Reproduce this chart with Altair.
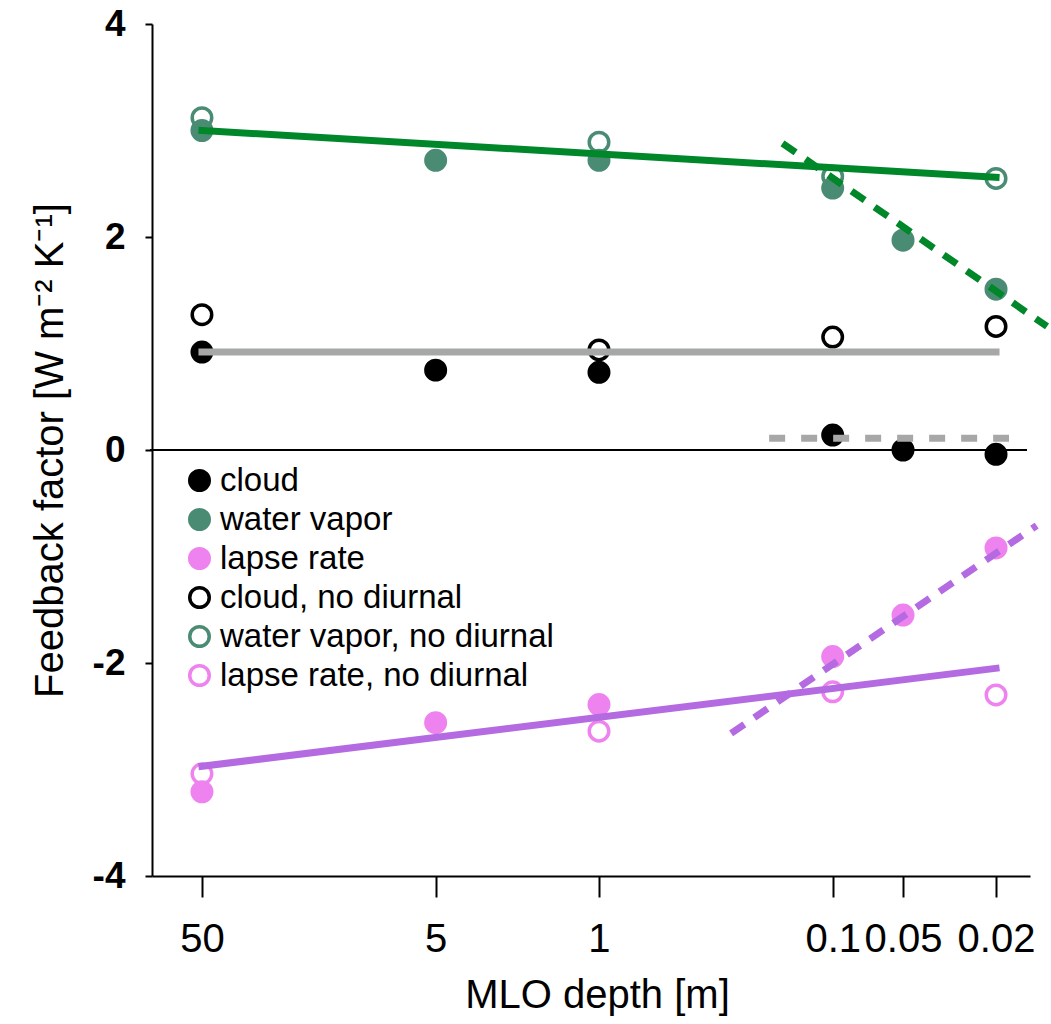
import altair as alt
import pandas as pd

# MLO depths (m) used in the experiments
depth = [50, 5, 1, 0.1, 0.05, 0.02]
cloud = [0.92, 0.75, 0.73, 0.14, 0.00, -0.04]
water_vapor = [3.00, 2.72, 2.72, 2.46, 1.97, 1.51]
lapse_rate = [-3.21, -2.56, -2.39, -1.94, -1.55, -0.92]

# runs without a diurnal cycle
depth_nd = [50, 1, 0.1, 0.02]
cloud_nd = [1.27, 0.94, 1.06, 1.16]
water_vapor_nd = [3.12, 2.89, 2.57, 2.55]
lapse_rate_nd = [-3.04, -2.64, -2.27, -2.30]

# fitted lines (end points): deep regime (solid) and shallow regime (dashed)
wv_fit_depth, wv_fit = [50, 0.02], [3.00, 2.56]
wv_shallow_depth, wv_shallow = [0.164, 0.0121], [2.88, 1.16]
cloud_fit_depth, cloud_fit = [50, 0.02], [0.92, 0.92]
cloud_shallow_depth, cloud_shallow = [0.187, 0.0176], [0.11, 0.11]
lr_fit_depth, lr_fit = [50, 0.02], [-2.97, -2.05]
lr_shallow_depth, lr_shallow = [0.272, 0.0134], [-2.66, -0.71]

series_names = ["cloud", "water vapor", "lapse rate",
                "cloud, no diurnal", "water vapor, no diurnal",
                "lapse rate, no diurnal"]
stroke_colors = ["#000000", "#4a8b73", "#ee82ee", "#000000", "#4a8b73", "#ee82ee"]
fill_colors = ["#000000", "#4a8b73", "#ee82ee", "transparent", "transparent", "transparent"]

FONT = "Liberation Sans"

rows = []
for name, vals in [("cloud, no diurnal", cloud_nd),
                   ("water vapor, no diurnal", water_vapor_nd),
                   ("lapse rate, no diurnal", lapse_rate_nd)]:
    for d, v in zip(depth_nd, vals):
        rows.append({"depth": d, "value": v, "series": name})
for name, vals in [("cloud", cloud), ("water vapor", water_vapor),
                   ("lapse rate", lapse_rate)]:
    for d, v in zip(depth, vals):
        rows.append({"depth": d, "value": v, "series": name})
points_df = pd.DataFrame(rows)

x_scale = alt.Scale(type="log", domain=[0.01431, 81.8], reverse=True, nice=False)
y_scale = alt.Scale(domain=[-4, 4], nice=False, zero=False)

x_axis = alt.Axis(
    values=depth, labelExpr="'' + datum.value", title="MLO depth [m]",
    labelFont=FONT, labelFontSize=40, labelColor="black", labelPadding=22,
    labelOverlap=False, labelFlush=False, labelBound=False,
    tickSize=21, tickWidth=2, tickColor="black",
    domainColor="black", domainWidth=2, grid=False,
    titleFont=FONT, titleFontSize=40, titleFontWeight="normal", titleColor="black",
    titleX=445, titleY=119, titleBaseline="middle", titleAlign="center",
)
y_axis = alt.Axis(
    values=[-4, -2, 0, 2, 4], labelExpr="'' + datum.value",
    title="Feedback factor [W m\u207b\u00b2 K\u207b\u00b9]",
    labelFont=FONT, labelFontSize=37, labelFontWeight="bold", labelColor="black",
    labelPadding=20, tickSize=7, tickWidth=2, tickColor="black",
    domainColor="black", domainWidth=2, grid=False,
    titleFont=FONT, titleFontSize=40, titleFontWeight="normal", titleColor="black",
    titleX=-102, titleY=426, titleBaseline="middle", titleAlign="center", titleAngle=-90,
)

legend = alt.Legend(
    title=None, orient="none", legendX=31, legendY=440,
    labelFont=FONT, labelFontSize=33, labelColor="black", labelLimit=0,
    symbolType="circle", symbolSize=380, symbolStrokeWidth=3.5, labelOffset=4,
    rowPadding=4, padding=0,
)

zero_line = alt.Chart(pd.DataFrame({"y": [0]})).mark_rule(
    color="black", strokeWidth=2
).encode(
    y=alt.Y("y:Q", scale=y_scale, axis=y_axis),
    x=alt.value(-2), x2=alt.value(875),
)

points = alt.Chart(points_df).mark_point(
    shape="circle", size=380, strokeWidth=3.5, opacity=1
).encode(
    x=alt.X("depth:Q", scale=x_scale, axis=x_axis),
    y=alt.Y("value:Q", scale=y_scale, axis=y_axis),
    fill=alt.Fill("series:N", scale=alt.Scale(domain=series_names, range=fill_colors),
                  legend=legend),
    stroke=alt.Stroke("series:N", scale=alt.Scale(domain=series_names, range=stroke_colors),
                      legend=legend),
)


def fit_line(xs, ys, color, dashed=False, dash=(16, 12)):
    df = pd.DataFrame({"depth": xs, "value": ys})
    props = dict(color=color, strokeWidth=7, clip=False)
    if dashed:
        props.update(strokeDash=list(dash), strokeCap="butt")
    else:
        props.update(strokeCap="square")
    return alt.Chart(df).mark_line(**props).encode(
        x=alt.X("depth:Q", scale=x_scale, axis=x_axis),
        y=alt.Y("value:Q", scale=y_scale, axis=y_axis),
    )


GREEN = "#00872a"
GRAY = "#a6a8a7"
PURPLE = "#b46ae0"

lines = [
    fit_line(wv_fit_depth, wv_fit, GREEN),
    fit_line(wv_shallow_depth, wv_shallow, GREEN, dashed=True),
    fit_line(cloud_fit_depth, cloud_fit, GRAY),
    fit_line(cloud_shallow_depth, cloud_shallow, GRAY, dashed=True, dash=(16, 16)),
    fit_line(lr_fit_depth, lr_fit, PURPLE),
    fit_line(lr_shallow_depth, lr_shallow, PURPLE, dashed=True),
]

chart = alt.layer(zero_line, points, *lines).properties(
    width=878, height=852,
    autosize=alt.AutoSizeParams(type="none"),
    padding={"left": 152, "top": 24, "right": 21, "bottom": 148},
    background="white",
).configure_view(strokeWidth=0)

chart.save("out.html", embed_options={"renderer": "svg", "actions": False})
